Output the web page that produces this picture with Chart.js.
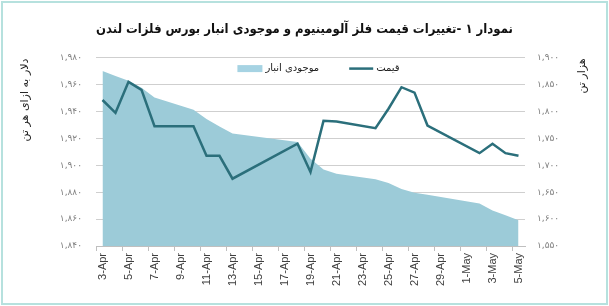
<!DOCTYPE html>
<html lang="fa">
<head>
  <meta charset="UTF-8">
  <title>نمودار ۱ - قیمت آلومینیوم و موجودی انبار</title>
  <script src="https://cdn.jsdelivr.net/npm/chart.js"></script>
  <style>
    html, body { margin: 0; padding: 0; background: #fff; }
    #wrap { width: 609px; height: 306px; position: relative; }
  </style>
</head>
<body>
  <div id="wrap"><canvas id="nemoodar"></canvas></div>

  <script>
    // روزهای محور افقی (تقویمی، برچسب یک روز در میان)
    const days = [
      '3-Apr','4-Apr','5-Apr','6-Apr','7-Apr','8-Apr','9-Apr','10-Apr','11-Apr','12-Apr',
      '13-Apr','14-Apr','15-Apr','16-Apr','17-Apr','18-Apr','19-Apr','20-Apr','21-Apr','22-Apr',
      '23-Apr','24-Apr','25-Apr','26-Apr','27-Apr','28-Apr','29-Apr','30-Apr','1-May','2-May',
      '3-May','4-May','5-May'
    ];
    // قیمت (دلار به ازای هر تن) - روزهای تعطیل null
    const priceUsd = [
      1948.5, 1939, 1962, 1956, 1929, null, null, 1929, 1907, 1907,
      1890, null, null, null, null, 1916, 1895, 1933, 1932.5, null,
      null, 1927.5, 1942, 1958, 1954, 1929.5, null, null, null, 1909,
      1916, 1909, 1907
    ];
    // موجودی انبار (هزار تن)
    const stockKt = [
      1875, 1866, 1857, 1844, 1826, null, null, 1803, 1786, 1772,
      1759, null, null, null, null, 1743, 1712, 1692, 1684, null,
      null, 1674, 1667, 1656, 1649, 1645, null, null, null, 1629,
      1616, 1607, 1598
    ];
    const leftTicks  = [1840, 1860, 1880, 1900, 1920, 1940, 1960, 1980];
    const rightTicks = [1550, 1600, 1650, 1700, 1750, 1800, 1850, 1900];

    const faDigits = '۰۱۲۳۴۵۶۷۸۹';
    const toFa = n => n.toString().replace(/\B(?=(\d{3})+(?!\d))/g, ',')
                       .replace(/\d/g, d => faDigits[d]);

    const lineColor = '#2b6f7b';
    const areaColor = '#9ccbd8';

    const decor = {
      id: 'decor',
      beforeDraw(chart) {
        const c = chart.ctx;
        c.save();
        c.fillStyle = '#fff';
        c.fillRect(0, 0, chart.width, chart.height);
        c.strokeStyle = '#b6e1de';
        c.lineWidth = 2;
        c.strokeRect(2, 2, chart.width - 4, chart.height - 4);
        c.restore();
      },
      afterDatasetsDraw(chart) {
        // راهنما داخل ناحیه نمودار
        const c = chart.ctx;
        const a = chart.chartArea;
        const ds = chart.data.datasets;
        c.save();
        c.font = '10px "DejaVu Sans"';
        c.textBaseline = 'middle';
        c.fillStyle = '#222';
        const w0 = c.measureText(ds[0].label).width;
        const w1 = c.measureText(ds[1].label).width;
        const total = 25 + 3 + w0 + 30 + 24 + 3 + w1;
        let x = (a.left + a.right) / 2 - total / 2 + 8;
        const y = a.top + 11;
        c.fillStyle = '#a6d3e3';
        c.fillRect(x, y - 3.5, 25, 7);
        x += 28;
        c.fillStyle = '#222';
        c.textAlign = 'left';
        c.fillText(ds[0].label, x, y);
        x += w0 + 30;
        c.strokeStyle = ds[1].borderColor;
        c.lineWidth = 2.5;
        c.beginPath();
        c.moveTo(x, y);
        c.lineTo(x + 24, y);
        c.stroke();
        x += 27;
        c.fillText(ds[1].label, x, y);
        c.restore();
      },
      afterDraw(chart) {
        const c = chart.ctx;
        const axisTitle = (txt, x, y) => {
          c.save();
          c.translate(x, y);
          c.rotate(-Math.PI / 2);
          c.font = '11px "DejaVu Sans"';
          c.fillStyle = '#222';
          c.textAlign = 'center';
          c.textBaseline = 'middle';
          c.fillText(txt, 0, 0);
          c.restore();
        };
        axisTitle('دلار به ازای هر تن', 25, 100);
        axisTitle('هزار تن', 582, 76);
      }
    };

    new Chart(document.getElementById('nemoodar'), {
      type: 'line',
      data: {
        labels: days,
        datasets: [
          {
            label: 'موجودی انبار',
            data: stockKt,
            yAxisID: 'y2',
            backgroundColor: areaColor,
            borderWidth: 0,
            fill: 'start',
            pointRadius: 0,
            spanGaps: true,
            order: 2
          },
          {
            label: 'قیمت',
            data: priceUsd,
            yAxisID: 'y',
            borderColor: lineColor,
            backgroundColor: lineColor,
            borderWidth: 2.5,
            fill: false,
            pointRadius: 0,
            spanGaps: true,
            order: 1
          }
        ]
      },
      options: {
        responsive: true,
        maintainAspectRatio: false,
        animation: false,
        layout: { padding: 0 },
        plugins: {
          title: {
            display: true,
            text: 'نمودار ۱ -تغییرات قیمت فلز آلومینیوم و موجودی انبار بورس فلزات لندن',
            color: '#111',
            font: { family: '"DejaVu Sans Condensed", "DejaVu Sans"', size: 13, weight: 'bold', lineHeight: 1.2 },
            padding: { top: 21.5, bottom: 20.5 }
          },
          legend: { display: false },
          tooltip: { enabled: false }
        },
        scales: {
          x: {
            type: 'category',
            offset: true,
            grid: {
              offset: true,
              drawOnChartArea: false,
              tickLength: 5,
              color: ctx => (ctx.index % 2 === 0 ? '#bfbfbf' : 'rgba(0,0,0,0)')
            },
            border: { display: true, color: '#bfbfbf' },
            ticks: {
              autoSkip: false,
              minRotation: 90,
              maxRotation: 90,
              padding: 2,
              color: '#404040',
              font: { family: '"Liberation Sans"', size: 11 },
              callback: (v, i) => (i % 2 === 0 ? days[i] : '')
            },
            afterFit: s => { s.height = 60; }
          },
          y: {
            position: 'left',
            min: 1840,
            max: 1980,
            afterBuildTicks: s => { s.ticks = leftTicks.map(v => ({ value: v })); },
            grid: { color: '#cfcfcf', drawTicks: false },
            border: { display: false },
            ticks: {
              padding: 14,
              color: '#808080',
              font: { family: '"DejaVu Sans"', size: 9 },
              callback: v => toFa(v)
            },
            afterFit: s => { s.width = 96; }
          },
          y2: {
            position: 'right',
            min: 1550,
            max: 1900,
            afterBuildTicks: s => { s.ticks = rightTicks.map(v => ({ value: v })); },
            grid: { drawOnChartArea: false, drawTicks: false },
            border: { display: false },
            ticks: {
              padding: 12,
              color: '#808080',
              font: { family: '"DejaVu Sans"', size: 9 },
              callback: v => toFa(v)
            },
            afterFit: s => { s.width = 84; }
          }
        }
      },
      plugins: [decor]
    });
  </script>
</body>
</html>
